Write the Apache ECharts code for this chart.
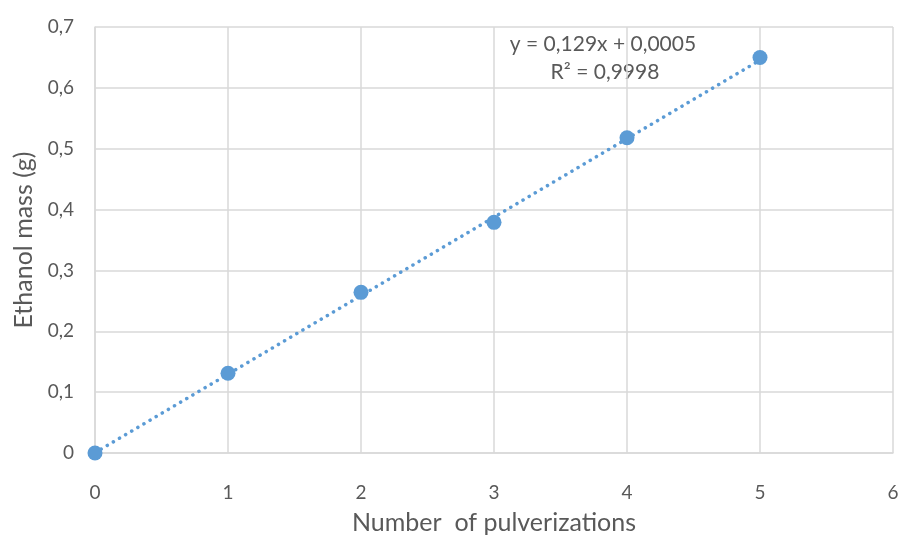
<!DOCTYPE html>
<html><head><meta charset="utf-8">
<script src="https://cdn.jsdelivr.net/npm/echarts@6/dist/echarts.min.js"></script>
<style>html,body{margin:0;padding:0;background:#fff}#c{width:901px;height:537px}</style>
</head><body><div id="c"></div>
<script>
const xValues = [0, 1, 2, 3, 4, 5];
const yValues = [0, 0.131, 0.264, 0.379, 0.518, 0.65];
const trendX = [0, 5];
const trendY = [0.0005, 0.6455];
const equationLines = ['y = 0,129x + 0,0005', 'R² = 0,9998'];
const xTitle = 'Number  of pulverizations';
const yTitle = 'Ethanol mass (g)';

const FONT = 'Lato';
const chart = echarts.init(document.getElementById('c'), null, {renderer: 'canvas'});
const comma = v => String(v).replace('.', ',');
chart.setOption({
  animation: false,
  grid: {left: 95, right: 8, top: 27, bottom: 84, outerBoundsMode: 'none', containLabel: false},
  xAxis: {
    type: 'value', min: 0, max: 6, interval: 1,
    name: xTitle, nameLocation: 'middle', nameGap: 57,
    nameTextStyle: {fontFamily: FONT, fontSize: 25, color: '#595959'},
    axisLine: {show: true, lineStyle: {color: '#d9d9d9', width: 1.5}},
    axisTick: {show: false},
    axisLabel: {fontFamily: FONT, fontSize: 19, color: '#595959', margin: 30},
    splitLine: {show: true, lineStyle: {color: '#d9d9d9', width: 1.5}}
  },
  yAxis: {
    type: 'value', min: 0, max: 0.7, interval: 0.1,
    name: yTitle, nameLocation: 'middle', nameGap: 58,
    nameTextStyle: {fontFamily: FONT, fontSize: 25, color: '#595959'},
    axisLine: {show: true, lineStyle: {color: '#d9d9d9', width: 1.5}},
    axisTick: {show: false},
    axisLabel: {fontFamily: FONT, fontSize: 19, color: '#595959', margin: 21,
      formatter: v => comma(Math.round(v * 10) / 10)},
    splitLine: {show: true, lineStyle: {color: '#d9d9d9', width: 1.5}}
  },
  series: [
    {
      type: 'line', data: trendX.map((x, i) => [x, trendY[i]]),
      showSymbol: false, symbol: 'none',
      lineStyle: {color: '#5b9bd5', width: 3.5, type: [0.1, 7], cap: 'round'},
      z: 2, silent: true
    },
    {
      type: 'scatter', data: xValues.map((x, i) => [x, yValues[i]]),
      symbolSize: 15, itemStyle: {color: '#5b9bd5', opacity: 1}, z: 3
    }
  ],
  graphic: [
    {type: 'text', x: 603, y: 44, style: {text: equationLines[0], fontFamily: FONT, fontSize: 21, fill: '#595959', align: 'center', verticalAlign: 'middle'}},
    {type: 'text', x: 605, y: 72, style: {text: equationLines[1], fontFamily: FONT, fontSize: 21, fill: '#595959', align: 'center', verticalAlign: 'middle'}}
  ]
});
</script></body></html>
